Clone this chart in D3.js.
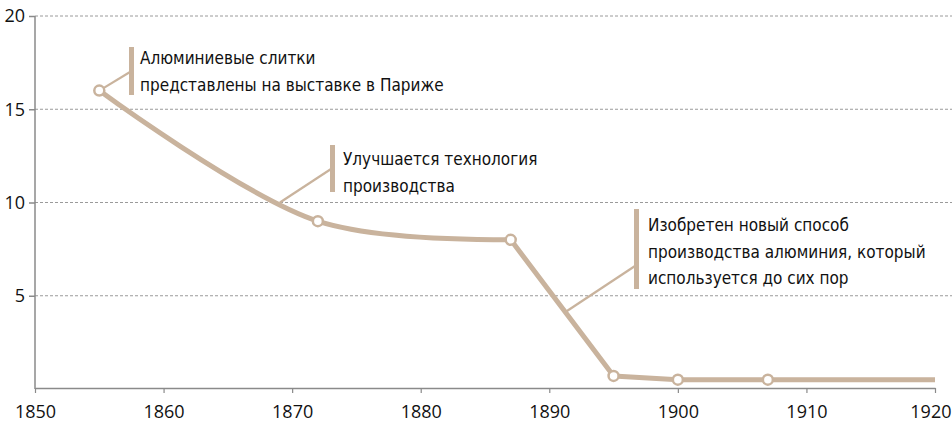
<!DOCTYPE html>
<html><head><meta charset="utf-8">
<script src="https://cdn.jsdelivr.net/npm/d3@7"></script>
<style>body{margin:0;background:#fff;overflow:hidden}
.tk text{font-family:'Open Sans','Noto Sans',sans-serif;font-size:18px;fill:#111}</style></head>
<body><svg id="c" width="952" height="422"></svg>
<script>
// ---- data ----
const years = [1855, 1872, 1887, 1895, 1900, 1907, 1920];
const prices = [16, 9, 8, 0.7, 0.5, 0.5, 0.5];
const markerYears = [1855, 1872, 1887, 1895, 1900, 1907];
const xTickValues = [1850, 1860, 1870, 1880, 1890, 1900, 1910, 1920];
const yTickValues = [5, 10, 15, 20];
const annotationTexts = [
  ["Алюминиевые слитки", "представлены на выставке в Париже"],
  ["Улучшается технология", "производства"],
  ["Изобретен новый способ", "производства алюминия, который", "используется до сих пор"]
];
const annotationAnchorYears = [1855, 1869.05, 1891.2];
const annotationAnchorValues = [16, 10, 4.1];

// ---- layout ----
const W = 952, H = 422;
const color = "#c9b39d";
const svg = d3.select("#c");
const x = d3.scaleLinear().domain([1850, 1920]).range([35, 935]);
const y = d3.scaleLinear().domain([0, 20]).range([389, 16]);
const annFont = "'Liberation Sans Narrow', 'DejaVu Sans Condensed', 'Roboto', sans-serif";

// grid
const grid = svg.append("g");
grid.selectAll("line").data(yTickValues).join("line")
  .attr("x1", x(1850)).attr("x2", W)
  .attr("y1", d => y(d)).attr("y2", d => y(d))
  .attr("stroke", "#9a9a9a").attr("stroke-width", 1).attr("stroke-dasharray", "3,2");

// y axis
const yAxis = svg.append("g").attr("class", "tk").attr("transform", `translate(${x(1850)},0)`)
  .call(d3.axisLeft(y).tickValues(yTickValues).tickSize(6).tickSizeOuter(0).tickPadding(4));
yAxis.attr("font-size", null).attr("font-family", null);
yAxis.select(".domain").remove();
yAxis.append("line").attr("x1", 0).attr("x2", 0).attr("y1", y(20)).attr("y2", y(0))
  .attr("stroke", "#8a8a8a").attr("stroke-width", 1.5);
yAxis.selectAll(".tick line").attr("stroke", "#8a8a8a").attr("stroke-width", 1.5);

// x axis
const xAxis = svg.append("g").attr("class", "tk").attr("transform", `translate(0,${y(0) - 1})`)
  .call(d3.axisBottom(x).tickValues(xTickValues).tickFormat(d3.format("d")).tickSize(5).tickSizeOuter(0).tickPadding(12));
xAxis.attr("font-size", null).attr("font-family", null);
xAxis.select(".domain").attr("stroke", "#8a8a8a").attr("stroke-width", 1.5);
xAxis.selectAll(".tick line").attr("stroke", "#8a8a8a").attr("stroke-width", 1.2);
// keep the last label inside the frame
xAxis.selectAll(".tick text").filter(d => d === 1920).attr("text-anchor", "end").attr("x", 16);

// data line: smooth through first three points, straight afterwards
const pts = years.map((yr, i) => ({ yr, v: prices[i] }));
const splitIdx = years.indexOf(1887);
const lineSmooth = d3.line().x(d => x(d.yr)).y(d => y(d.v)).curve(d3.curveCatmullRom);
const lineStraight = d3.line().x(d => x(d.yr)).y(d => y(d.v));

// annotations (drawn beneath the line)
const annLayout = [
  { barX: 129, barTop: 47, barH: 48, textX: 140, base: 64, joinY: 72 },
  { barX: 330, barTop: 145, barH: 47, textX: 343, base: 165, joinY: 169 },
  { barX: 634, barTop: 209, barH: 80, textX: 648, base: 231, joinY: 266 }
];
const lineH = 26.5;
annotationTexts.forEach((lines, i) => {
  const L = annLayout[i];
  const g = svg.append("g");
  g.append("line")
    .attr("x1", x(annotationAnchorYears[i])).attr("y1", y(annotationAnchorValues[i]))
    .attr("x2", L.barX + 1).attr("y2", L.joinY)
    .attr("stroke", color).attr("stroke-width", 2.2);
  g.append("rect").attr("x", L.barX).attr("y", L.barTop).attr("width", 5).attr("height", L.barH)
    .attr("fill", color);
  const t = g.append("text").attr("x", L.textX).attr("y", L.base)
    .style("font-family", annFont).style("font-size", "17px").attr("fill", "#111");
  lines.forEach((s, j) => t.append("tspan").attr("x", L.textX).attr("y", L.base + j * lineH).text(s));
});

svg.append("path").attr("d", lineSmooth(pts.slice(0, splitIdx + 1)))
  .attr("fill", "none").attr("stroke", color).attr("stroke-width", 5).attr("stroke-linecap", "round");
svg.append("path").attr("d", lineStraight(pts.slice(splitIdx)))
  .attr("fill", "none").attr("stroke", color).attr("stroke-width", 5).attr("stroke-linejoin", "round");

svg.append("g").selectAll("circle").data(pts.filter(d => markerYears.includes(d.yr))).join("circle")
  .attr("cx", d => x(d.yr)).attr("cy", d => y(d.v)).attr("r", 5)
  .attr("fill", "#fff").attr("stroke", color).attr("stroke-width", 2.5);
</script>
</body></html>
